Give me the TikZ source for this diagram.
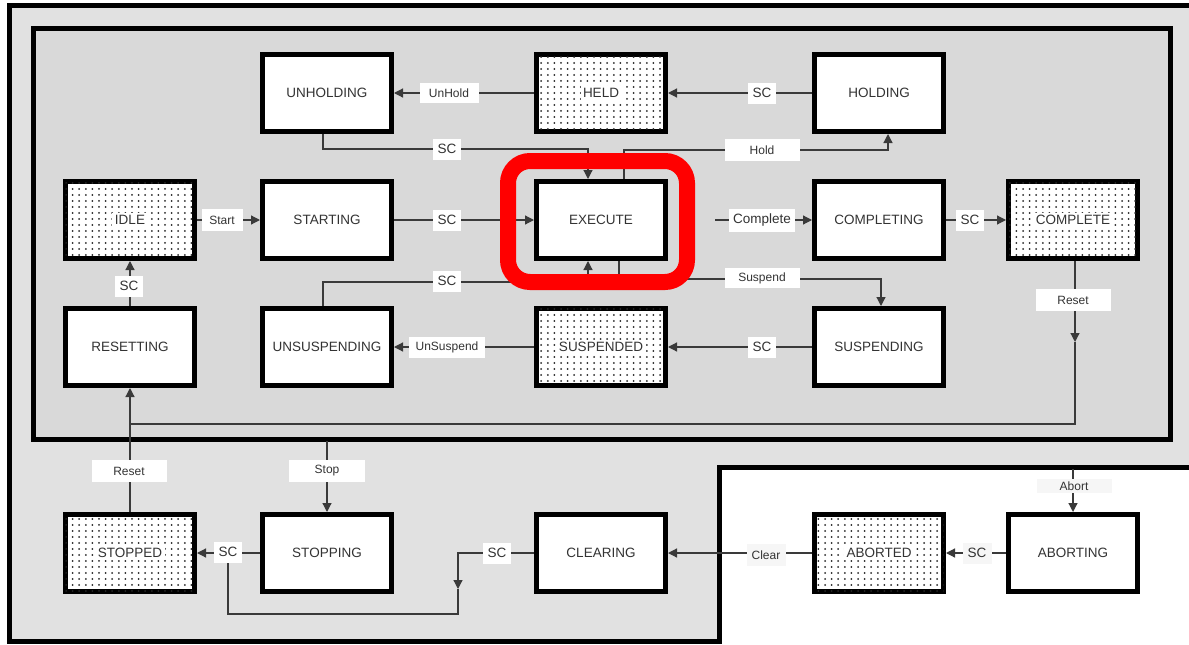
\documentclass[tikz,border=0pt]{standalone}
\usepackage{fontspec}
\setmainfont{Liberation Sans}
\usetikzlibrary{arrows.meta,patterns.meta}
\definecolor{outerfill}{HTML}{E1E1E1}
\definecolor{innerfill}{HTML}{D9D9D9}
\definecolor{txt}{HTML}{333333}
\definecolor{wirec}{HTML}{3A3A3A}
\definecolor{paleface}{HTML}{F6F6F6}
\tikzdeclarepattern{
  name=sdots,
  type=uncolored,
  bottom left={(-1.5pt,-1.5pt)},
  top right={(1.5pt,1.5pt)},
  tile size={(6.6pt,6pt)},
  code={\pgfpathcircle{\pgfpointorigin}{1pt}\pgfusepath{fill}}
}
\begin{document}
\begin{tikzpicture}[x=1pt,y=-1pt,
  statebox/.style={draw=black, line width=5pt, fill=white, minimum width=129pt,
    minimum height=77pt, inner sep=0pt, font=\fontsize{13.5}{16}\selectfont, text=txt},
  dotbox/.style={statebox, postaction={pattern=sdots, pattern color=black!85}},
  dotlabel/.style={fill=white, inner sep=2.5pt, font=\fontsize{13.5}{16}\selectfont, text=txt},
  tag/.style={fill=white, inner sep=0pt, minimum height=21pt,
    font=\fontsize{12}{14}\selectfont, text=txt},
  bigtag/.style={tag, font=\fontsize{13.5}{16}\selectfont},
  wire/.style={draw=wirec, line width=1.2pt},
  arr/.style={wire, -{Triangle[length=9pt,width=9pt]}},
  frame/.style={draw=black, line width=5pt},
]
\useasboundingbox (0,0) rectangle (1189,645);
\clip (0,0) rectangle (1189,645);

% frames
\fill[white] (0,0) rectangle (1189,645);
\path[frame, fill=outerfill] (9,5) -- (1200,5) -- (1200,467) -- (719.5,467) -- (719.5,641) -- (9,641) -- cycle;
\path[frame, fill=innerfill] (33,28.5) rectangle (1170,439.5);

% states
\node[statebox] (unholding) at (327,93) {UNHOLDING};
\node[dotbox, label={[dotlabel]center:HELD}] (held) at (601,93) {};
\node[statebox] (holding) at (879,93) {HOLDING};

\node[dotbox, label={[dotlabel]center:IDLE}] (idle) at (130,220) {};
\node[statebox] (starting) at (327,220) {STARTING};
\node[statebox] (execute) at (601,220) {EXECUTE};
\node[statebox] (completing) at (879,220) {COMPLETING};
\node[dotbox, label={[dotlabel]center:COMPLETE}] (complete) at (1073,220) {};

\node[statebox] (resetting) at (130,347) {RESETTING};
\node[statebox] (unsuspending) at (327,347) {UNSUSPENDING};
\node[dotbox, label={[dotlabel]center:SUSPENDED}] (suspended) at (601,347) {};
\node[statebox] (suspending) at (879,347) {SUSPENDING};

\node[dotbox, label={[dotlabel]center:STOPPED}] (stopped) at (130,553) {};
\node[statebox] (stopping) at (327,553) {STOPPING};
\node[statebox] (clearing) at (601,553) {CLEARING};
\node[dotbox, label={[dotlabel]center:ABORTED}] (aborted) at (879,553) {};
\node[statebox] (aborting) at (1073,553) {ABORTING};

% free ends
\coordinate (cstart) at (715,220);
\coordinate (cmid) at (1075,342);
\coordinate (stopsrc) at (327,441);
\coordinate (abortsrc) at (1073,469);
\coordinate (clrcorner) at (458,553);
\coordinate (clrmid) at (458,589);

% connectors
\draw[arr] (held.west) -- (unholding.east);
\draw[arr] (holding.west) -- (held.east);
\draw[arr] ([xshift=-4pt]unholding.south) -- ++(0,15) -| ([xshift=-13pt]execute.north);
\draw[arr] ([xshift=23pt]execute.north) -- ++(0,-29) -| ([xshift=9pt]holding.south);
\draw[arr] (idle.east) -- (starting.west);
\draw[arr] (starting.east) -- (execute.west);
\draw[arr] (cstart) -- (completing.west);
\draw[arr] (completing.east) -- (complete.west);
\draw[arr] ([xshift=18pt]execute.south) -- ++(0,18) -| ([xshift=2pt]suspending.north);
\draw[arr] ([xshift=-4pt]unsuspending.north) -- ++(0,-24) -| ([xshift=-13pt]execute.south);
\draw[arr] (suspended.west) -- (unsuspending.east);
\draw[arr] (suspending.west) -- (suspended.east);
\draw[arr] (resetting.north) -- (idle.south);
\draw[arr] ([xshift=2pt]complete.south) -- (cmid);
\draw[wire] (cmid) -- (1075,424) -- (130,424);
\draw[arr] (stopped.north) -- (resetting.south);
\draw[arr] (stopsrc) -- (stopping.north);
\draw[arr] (stopping.west) -- (stopped.east);
\draw[arr] (clearing.west) -- (clrcorner) -- (clrmid);
\draw[wire] (clrmid) -- (458,614) -- (228,614) -- (228,560);
\draw[arr] (aborted.west) -- (clearing.east);
\draw[arr] (abortsrc) -- (aborting.north);
\draw[arr] (aborting.west) -- (aborted.east);

% transition labels
\node[tag, minimum width=59pt, minimum height=20pt] (tunhold) at (449,93) {UnHold};
\node[bigtag, minimum width=28pt] (tsc1) at (762,93) {SC};
\node[bigtag, minimum width=28pt] (tsc2) at (447,149) {SC};
\node[tag, minimum width=75pt, minimum height=22pt] (thold) at (762,150) {Hold};
\node[tag, minimum width=41pt, minimum height=22pt] (tstart) at (222,220) {Start};
\node[bigtag, minimum width=28pt] (tsc3) at (447,220) {SC};
\node[bigtag, minimum width=66pt, minimum height=23pt] (tcomplete) at (762,220) {Complete};
\node[bigtag, minimum width=28pt] (tsc4) at (970,220) {SC};
\node[tag, minimum width=75pt, minimum height=20pt] (tsuspend) at (762,278) {Suspend};
\node[bigtag, minimum width=28pt] (tsc5) at (447,281) {SC};
\node[tag, minimum width=76pt] (tunsuspend) at (447,347) {UnSuspend};
\node[bigtag, minimum width=28pt] (tsc6) at (762,347) {SC};
\node[bigtag, minimum width=28pt] (tsc7) at (129,286) {SC};
\node[tag, minimum width=75pt, minimum height=22pt] (treset1) at (1073,300) {Reset};
\node[tag, minimum width=75pt, minimum height=22pt] (treset2) at (129,471) {Reset};
\node[tag, minimum width=76pt, minimum height=22pt] (tstop) at (327,471) {Stop};
\node[bigtag, minimum width=28pt] (tsc8) at (228,552) {SC};
\node[bigtag, minimum width=28pt] (tsc9) at (497,553) {SC};
\node[tag, fill=paleface, minimum width=39pt, minimum height=22pt] (tclear) at (766,555) {Clear};
\node[tag, fill=paleface, minimum width=75pt, minimum height=14pt] (tabort) at (1074,486) {Abort};
\node[bigtag, fill=paleface, minimum width=29pt] (tsc10) at (977,553) {SC};

% highlight
\draw[red, line width=16pt, rounded corners=22pt] (508,161) rectangle (687,282);
\end{tikzpicture}
\end{document}
